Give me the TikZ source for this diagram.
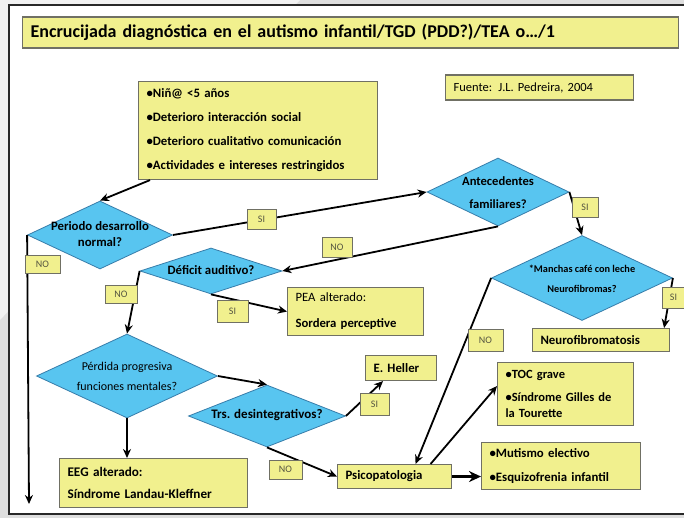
\documentclass[tikz,border=0pt]{standalone}
\usepackage{fontspec}
\setmainfont{Carlito}
\usepackage{xcolor}
\usetikzlibrary{shapes.geometric, arrows.meta, positioning}

\definecolor{amarillo}{RGB}{241,240,142}
\definecolor{bordegris}{RGB}{112,112,100}
\definecolor{celeste}{RGB}{88,197,240}
\definecolor{bordeazul}{RGB}{55,125,170}
\definecolor{textogris}{RGB}{85,85,65}
\definecolor{fondo}{RGB}{222,222,222}
\definecolor{fondoclaro}{RGB}{241,241,241}
\definecolor{marco}{RGB}{40,40,40}

% texto centrado de ancho nulo dentro de los rombos
\newcommand{\dlin}[1]{\makebox[0pt]{\begin{tabular}{@{}c@{}}#1\end{tabular}}}

\begin{document}
\begin{tikzpicture}[x=1pt, y=-1pt, >={Stealth[length=9pt, width=8pt]},
    caja/.style={draw=bordegris, fill=amarillo, line width=1.1pt, inner xsep=8pt, inner ysep=0pt,
                 align=left, font=\bfseries\fontsize{12.8}{24}\selectfont},
    rombo/.style={diamond, draw=bordeazul, fill=celeste, line width=0.8pt, inner sep=0pt,
                  font=\bfseries\fontsize{12.8}{16}\selectfont},
    etiq/.style={draw=bordegris, fill=amarillo, line width=0.8pt, inner sep=0pt,
                 minimum width=30pt, minimum height=20pt, text=textogris,
                 font=\fontsize{10}{11}\selectfont},
    flecha/.style={->, line width=1.8pt}]

    \useasboundingbox (0,0) rectangle (684,518);

    % =================================================================
    % 1. FONDO Y MARCO DE LA DIAPOSITIVA
    % =================================================================
    \fill[fondo] (0,0) rectangle (684,518);
    \fill[fondoclaro] (0,0) -- (300,0) -- (0,320) -- cycle;
    \fill[white] (9,5) rectangle (684,514);
    \draw[marco, line width=2.5pt] (684,5) -- (9,5) -- (9,514) -- (684,514);

    % =================================================================
    % 2. TITULO, FUENTE Y CRITERIOS
    % =================================================================
    \node[caja, anchor=west, text width=640pt, minimum height=31pt,
          font=\bfseries\fontsize{18}{20}\selectfont] (titulo) at (22,32.5)
          {Encrucijada diagnóstica en el autismo infantil/TGD (PDD?)/TEA o…/1};

    \node[caja, anchor=west, text width=172pt, minimum height=25pt,
          font=\fontsize{12.5}{14}\selectfont] (fuente) at (445,87.5)
          {Fuente: J.L. Pedreira, 2004};

    \node[caja, anchor=north west, text width=223pt, minimum height=98pt] (criterios) at (138,81)
          {•Niñ@ <5 años\\•Deterioro interacción social\\•Deterioro cualitativo comunicación\\•Actividades e intereses restringidos};

    % =================================================================
    % 3. ROMBOS DE DECISION
    % =================================================================
    \node[rombo, minimum width=145pt, minimum height=68pt] (periodo) at (100,235)
          {\dlin{Periodo desarrollo\\normal?}};
    \node[rombo, minimum width=142pt, minimum height=68pt,
          font=\bfseries\fontsize{12.6}{23}\selectfont] (antec) at (498,192)
          {\dlin{Antecedentes\\familiares?}};
    \node[rombo, minimum width=142pt, minimum height=46pt] (deficit) at (211,271)
          {\dlin{Déficit auditivo?}};
    \node[rombo, minimum width=181pt, minimum height=84pt,
          font=\fontsize{12}{20}\selectfont] (perdida) at (127,376)
          {\dlin{Pérdida progresiva\\funciones mentales?}};
    \node[rombo, minimum width=157pt, minimum height=62pt,
          font=\bfseries\fontsize{13}{14}\selectfont] (trs) at (267,416)
          {\dlin{Trs. desintegrativos?}};
    \node[rombo, minimum width=181pt, minimum height=85pt,
          font=\bfseries\fontsize{10.3}{20}\selectfont] (manchas) at (582,278)
          {\dlin{*Manchas café con leche\\*Neurofibromas?}};

    % =================================================================
    % 4. CAJAS DE RESULTADO
    % =================================================================
    \node[caja, anchor=north west, text width=120pt, minimum height=48pt,
          font=\fontsize{12.7}{26}\selectfont] (pea) at (287,287)
          {PEA alterado:\\\textbf{Sordera perceptive}};
    \node[caja, anchor=north west, text width=172pt, minimum height=49pt,
          font=\bfseries\fontsize{13.2}{22}\selectfont] (eeg) at (59,458)
          {EEG alterado:\\Síndrome Landau-Kleffner};
    \node[caja, anchor=north west, text width=55pt, minimum height=25pt] (heller) at (365,355) {E. Heller};
    \node[caja, anchor=north west, text width=121pt, minimum height=23pt] (neuro) at (532,328) {Neurofibromatosis};
    \node[caja, anchor=north west, text width=120pt, minimum height=63pt,
          font=\bfseries\fontsize{12.5}{16}\selectfont] (toc) at (497,362)
          {•TOC grave\\[7pt]•Síndrome Gilles de\\la Tourette};
    \node[caja, anchor=north west, text width=98pt, minimum height=24pt] (psico) at (337,464) {Psicopatologia};
    \node[caja, anchor=north west, text width=143pt, minimum height=47pt] (mutismo) at (481,442)
          {•Mutismo electivo\\•Esquizofrenia infantil};

    % extremo libre de la flecha vertical izquierda
    \coordinate (fin) at (29,504);

    % =================================================================
    % 5. FLECHAS
    % =================================================================
    \draw[flecha] ([xshift=12pt]criterios.south west) -- (periodo.north);
    \draw[flecha] (periodo.west) -- (fin);
    \draw[flecha] (periodo.east) -- (antec.west);
    \draw[flecha] (antec.south) -- (deficit.east);
    \draw[flecha] (deficit.south) -- (pea.west);
    \draw[flecha] (deficit.west) -- (perdida.north);
    \draw[flecha] (perdida.south) -- (perdida.south |- eeg.north);
    \draw[flecha] (perdida.east) -- (trs.north);
    \draw[flecha] (trs.east) -- ([xshift=-18pt]heller.south);
    \draw[flecha] (trs.south) -- (psico.west);
    \draw[flecha, line width=3pt, -{Stealth[length=12pt, width=11pt]}] (psico.east) -- (psico.east -| mutismo.west);
    \draw[flecha] ([xshift=36pt]psico.north) -- ([yshift=8pt]toc.west);
    \draw[flecha] (manchas.west) -- ([xshift=21pt]psico.north);
    \draw[flecha] (antec.east) -- (manchas.north);
    \draw[flecha] (manchas.east) -- ([xshift=-6pt]neuro.north east);

    % =================================================================
    % 6. ETIQUETAS SI / NO
    % =================================================================
    \node[etiq, minimum width=35pt, minimum height=18pt] (no1) at (42.5,264) {NO};
    \node[etiq, minimum width=29pt] (si1) at (261.5,219) {SI};
    \node[etiq] (no2) at (337,247) {NO};
    \node[etiq, minimum width=26pt] (si2) at (585,207) {SI};
    \node[etiq, minimum width=32pt, minimum height=18pt] (no3) at (121,294) {NO};
    \node[etiq, minimum width=31pt, minimum height=22pt] (si3) at (232.5,311) {SI};
    \node[etiq, minimum width=29pt, minimum height=22pt] (si4) at (374.5,404) {SI};
    \node[etiq, minimum width=33pt, minimum height=19pt] (no4) at (285.5,469.5) {NO};
    \node[etiq, minimum width=35pt, minimum height=22pt] (no5) at (485.5,340) {NO};
    \node[etiq, minimum width=22pt, minimum height=21pt] (si5) at (673.5,297.5) {SI};

\end{tikzpicture}
\end{document}
